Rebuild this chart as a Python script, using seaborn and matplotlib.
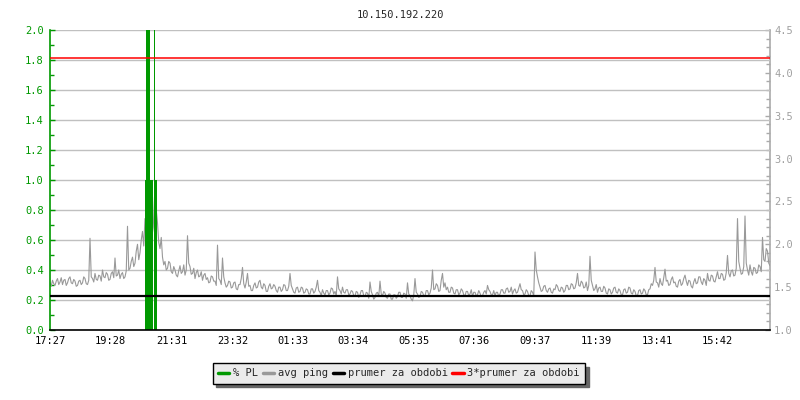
import numpy as np
import pandas as pd
import matplotlib
matplotlib.use("Agg")
import matplotlib.pyplot as plt
import matplotlib.ticker as mticker
from matplotlib.lines import Line2D
import seaborn as sns

# data
title = "10.150.192.220"
start_time = "2016-03-01 17:27"
ping_step_min = 2.5
avg_ping = [
    1.55, 1.51, 1.58, 1.54, 1.52, 1.57, 1.60, 1.53, 1.56, 1.61, 1.53, 1.58, 1.59, 1.52, 1.55, 1.60,
    1.62, 1.55, 1.54, 1.59, 1.57, 1.51, 1.52, 1.57, 1.58, 1.53, 1.55, 1.62, 1.60, 1.54, 1.53, 1.58,
    2.07, 1.62,
    1.60, 1.56, 1.66, 1.59, 1.58, 1.64, 1.63, 1.57, 1.70, 1.62, 1.61, 1.67, 1.65, 1.58, 1.59, 1.66,
    1.68, 1.61, 1.84, 1.63, 1.64, 1.70, 1.60, 1.65, 1.67, 1.60, 1.62, 1.69,
    2.21, 1.70,
    1.72, 1.80, 1.85, 1.74, 1.78, 1.92, 2.00, 1.82, 1.90, 2.05, 2.15, 1.98, 2.30, 2.12, 2.72, 2.28,
    2.35, 2.60, 2.55, 2.20, 2.10, 2.40, 2.25, 2.02, 1.95, 2.08, 1.85, 1.76, 1.80, 1.70,
    1.72, 1.80, 1.78, 1.68, 1.66, 1.74, 1.70, 1.64, 1.62, 1.69, 1.75, 1.66, 1.68, 1.76, 1.64, 1.70,
    2.10, 1.78, 1.74, 1.65, 1.66, 1.72, 1.60, 1.67, 1.70, 1.62, 1.63, 1.68, 1.58, 1.64, 1.66, 1.59,
    1.61, 1.55, 1.56, 1.63, 1.62, 1.57, 1.57, 1.52,
    1.99, 1.60, 1.58, 1.53, 1.84, 1.62, 1.55, 1.50, 1.52, 1.57, 1.56, 1.49,
    1.50, 1.55, 1.56, 1.48, 1.47, 1.53, 1.53, 1.60, 1.73, 1.54, 1.49, 1.56, 1.66, 1.51, 1.52, 1.46,
    1.46, 1.52, 1.55, 1.49, 1.50, 1.56, 1.58, 1.50, 1.48, 1.54, 1.52, 1.45, 1.45, 1.51, 1.54, 1.48,
    1.49, 1.53, 1.51, 1.46, 1.44, 1.50, 1.50, 1.45,
    1.47, 1.53, 1.52, 1.46, 1.46, 1.51, 1.66, 1.52, 1.48, 1.44, 1.43, 1.49, 1.50, 1.44, 1.45, 1.50,
    1.49, 1.43, 1.44, 1.48,
    1.47, 1.42, 1.42, 1.48, 1.48, 1.43, 1.45, 1.50, 1.58, 1.46, 1.44, 1.40, 1.47, 1.43, 1.41, 1.46,
    1.46, 1.41, 1.43, 1.49, 1.48, 1.42, 1.45, 1.40, 1.62, 1.48, 1.46, 1.42, 1.50, 1.44, 1.43, 1.47,
    1.47, 1.41, 1.42, 1.46, 1.45, 1.40, 1.40, 1.45, 1.44, 1.38, 1.41, 1.46, 1.46, 1.40, 1.39, 1.44,
    1.43, 1.37, 1.56, 1.45, 1.41, 1.36, 1.38, 1.43, 1.44, 1.39, 1.57, 1.42, 1.40, 1.45, 1.43, 1.38,
    1.37, 1.42, 1.42, 1.36, 1.36, 1.41, 1.41, 1.37, 1.39, 1.44, 1.44, 1.38, 1.38, 1.43, 1.42, 1.37,
    1.55, 1.42,
    1.40, 1.36, 1.34, 1.41, 1.60, 1.44, 1.42, 1.38, 1.39, 1.45, 1.44, 1.40, 1.40, 1.46, 1.46, 1.41,
    1.43, 1.49, 1.70, 1.47, 1.48, 1.54, 1.52, 1.45, 1.46, 1.58, 1.66, 1.50, 1.55, 1.47, 1.50, 1.44,
    1.44, 1.50, 1.49, 1.43, 1.42, 1.47, 1.47, 1.41, 1.43, 1.48, 1.46, 1.41, 1.40, 1.45, 1.45, 1.40,
    1.42, 1.47, 1.39, 1.44, 1.44, 1.40, 1.41, 1.46, 1.43, 1.39, 1.40, 1.44, 1.46, 1.42, 1.52, 1.47,
    1.45, 1.41, 1.41, 1.46, 1.40, 1.44, 1.44, 1.39, 1.42, 1.47, 1.47, 1.43, 1.43, 1.48, 1.49, 1.44,
    1.45, 1.50, 1.42, 1.46, 1.48, 1.43, 1.44, 1.49, 1.54, 1.47, 1.46, 1.41, 1.42, 1.47, 1.45, 1.40,
    1.40, 1.46, 1.44, 1.40, 1.91, 1.70, 1.62, 1.55, 1.50, 1.45, 1.46, 1.51, 1.52, 1.46, 1.44, 1.48,
    1.49, 1.44, 1.43, 1.48, 1.47, 1.53, 1.51, 1.46, 1.45, 1.50, 1.49, 1.44, 1.46, 1.52, 1.52, 1.47,
    1.48, 1.54, 1.53, 1.48, 1.49, 1.55, 1.66, 1.52, 1.51, 1.57, 1.55, 1.49, 1.50, 1.56,
    1.46, 1.52, 1.86, 1.58, 1.52, 1.46, 1.48, 1.53, 1.44, 1.49, 1.50, 1.45, 1.45, 1.51, 1.49, 1.43,
    1.42, 1.48, 1.47, 1.42, 1.44, 1.49, 1.50, 1.44, 1.43, 1.48, 1.46, 1.41, 1.41, 1.47, 1.48, 1.43,
    1.44, 1.50, 1.49, 1.43, 1.42, 1.47, 1.45, 1.40, 1.40, 1.46, 1.47, 1.42, 1.43, 1.48, 1.46, 1.41,
    1.41, 1.47, 1.48, 1.54, 1.52, 1.58, 1.73, 1.56, 1.55, 1.50, 1.60, 1.54, 1.52, 1.61, 1.71, 1.57,
    1.58, 1.52, 1.53, 1.59, 1.62, 1.55, 1.56, 1.51, 1.50, 1.57, 1.59, 1.52, 1.54, 1.60, 1.64, 1.57,
    1.52, 1.58, 1.57, 1.51, 1.49, 1.56, 1.60, 1.54, 1.55, 1.62, 1.62, 1.56, 1.53, 1.60, 1.58, 1.52,
    1.66, 1.58, 1.57, 1.64, 1.63, 1.57, 1.56, 1.62, 1.68, 1.60, 1.60, 1.66, 1.65, 1.58, 1.59, 1.67,
    1.87, 1.66, 1.62, 1.69, 1.70, 1.63, 1.64, 1.72, 2.30, 1.80, 1.72, 1.65, 1.66, 1.74, 2.33, 1.78,
    1.70, 1.64, 1.76, 1.68, 1.64, 1.73, 1.72, 1.66, 1.67, 1.76, 1.74, 1.68, 2.08, 1.82, 1.80, 1.95,
    1.92, 1.78, 1.75,
]
pl_start = "20:37"
pl_values = [1, 1, 5, 5, 5, 5, 5, 5, 5, 5, 5, 1, 0, 1, 5, 1, 0, 0, 0, 5, 5, 1, 1, 1]
prumer = 1.393
tick_labels = ["17:27", "19:28", "21:31", "23:32", "01:33", "03:34",
               "05:35", "07:36", "09:37", "11:39", "13:41", "15:42"]

green = "#009900"
gray = "#999999"

sns.set_style("white")
plt.rcParams["font.family"] = ["DejaVu Sans Mono"]
plt.rcParams["font.size"] = 7.5

start = pd.Timestamp(start_time)
ping_times = start + pd.to_timedelta(np.arange(len(avg_ping)) * ping_step_min, unit="min")
end = ping_times[-1]

pl_t0 = pd.Timestamp(start.strftime("%Y-%m-%d") + " " + pl_start)
pl_times = pl_t0 + pd.to_timedelta(np.arange(len(pl_values)), unit="min")

# tick positions from the labels (roll over midnight)
tick_pos = []
day = start.normalize()
prev = None
for lab in tick_labels:
    t = pd.Timestamp(day.strftime("%Y-%m-%d") + " " + lab)
    if prev is not None and t < prev:
        day = day + pd.Timedelta(days=1)
        t = t + pd.Timedelta(days=1)
    tick_pos.append(t)
    prev = t

fig = plt.figure(figsize=(8, 4), dpi=100)
ax = fig.add_axes([50 / 800, 1 - 330 / 400, 720 / 800, 300 / 400])
axp = ax.twinx()
ax.set_zorder(2)
axp.set_zorder(1)
ax.patch.set_visible(False)

ax.set_xlim(start, end)
ax.set_ylim(0, 2.0)
axp.set_ylim(1.0, 4.5)

# grid from the left axis
ax.set_axisbelow(True)
ax.grid(axis="y", color="#c0c0c0", linewidth=1)
ax.grid(axis="x", visible=False)

# ping on the right scale, drawn inside ax so the layering matches
sns.lineplot(x=ping_times, y=avg_ping, ax=ax, transform=axp.transData,
             color=gray, linewidth=0.8, estimator=None, sort=False, zorder=1.5)

ax.bar(pl_times, pl_values, width=1 / 1440, align="edge", color=green,
       linewidth=0, zorder=2)

ax.plot([start, end], [prumer, prumer], transform=axp.transData,
        color="black", linewidth=1.6, zorder=3)
ax.plot([start, end], [3 * prumer, 3 * prumer], transform=axp.transData,
        color="#ff0000", linewidth=1.1, zorder=3)

ax.set_xlabel("")
ax.set_ylabel("")

ax.yaxis.set_major_locator(mticker.MultipleLocator(0.2))
ax.yaxis.set_minor_locator(mticker.MultipleLocator(0.1))
ax.yaxis.set_major_formatter(mticker.FormatStrFormatter("%.1f"))
axp.yaxis.set_major_locator(mticker.MultipleLocator(0.5))
axp.yaxis.set_minor_locator(mticker.MultipleLocator(0.1))
axp.yaxis.set_major_formatter(mticker.FormatStrFormatter("%.1f"))

ax.set_xticks(tick_pos)
ax.set_xticklabels(tick_labels)

ax.tick_params(axis="x", direction="in", length=3.6, width=1, colors="black", pad=4)
ax.tick_params(axis="y", which="major", direction="in", length=3.6, width=1,
               colors=green, labelcolor=green, pad=4.5, left=True, right=False)
ax.tick_params(axis="y", which="minor", direction="in", length=3, width=1,
               colors=green, left=True, right=False)
axp.tick_params(axis="y", which="major", direction="in", length=3.6, width=1,
                colors="#aaaaaa", labelcolor="#a0a0a0", pad=3)
axp.tick_params(axis="y", which="minor", direction="in", length=3, width=1,
                colors="#aaaaaa")

for s in ["top", "right"]:
    ax.spines[s].set_visible(False)
ax.spines["left"].set_color(green)
ax.spines["left"].set_linewidth(1.2)
ax.spines["bottom"].set_color("black")
ax.spines["bottom"].set_linewidth(1.2)
for s in ["top", "left", "bottom"]:
    axp.spines[s].set_visible(False)
axp.spines["right"].set_color("#aaaaaa")
axp.spines["right"].set_linewidth(1.2)

fig.text(0.5, 1 - 15 / 400, title, ha="center", va="center", fontsize=7.5)

handles = [
    Line2D([], [], color=green, linewidth=2.5),
    Line2D([], [], color=gray, linewidth=2.5),
    Line2D([], [], color="black", linewidth=2.5),
    Line2D([], [], color="#ff0000", linewidth=2.5),
]
names = ["% PL", "avg ping", "prumer za obdobi", "3*prumer za obdobi"]
leg = fig.legend(handles, names, loc="upper center", bbox_to_anchor=(399 / 800, 1 - 358 / 400),
                 ncol=4, frameon=True, fancybox=False, framealpha=1,
                 facecolor="#ebebeb", edgecolor="black",
                 shadow={"ox": 2.5, "oy": -2.5, "color": "#666666", "alpha": 1},
                 handlelength=1.1, handletextpad=0.35, columnspacing=0.45,
                 borderpad=0.5, fontsize=7.5)
leg.get_frame().set_linewidth(1)

fig.savefig("out.png", dpi=100)
